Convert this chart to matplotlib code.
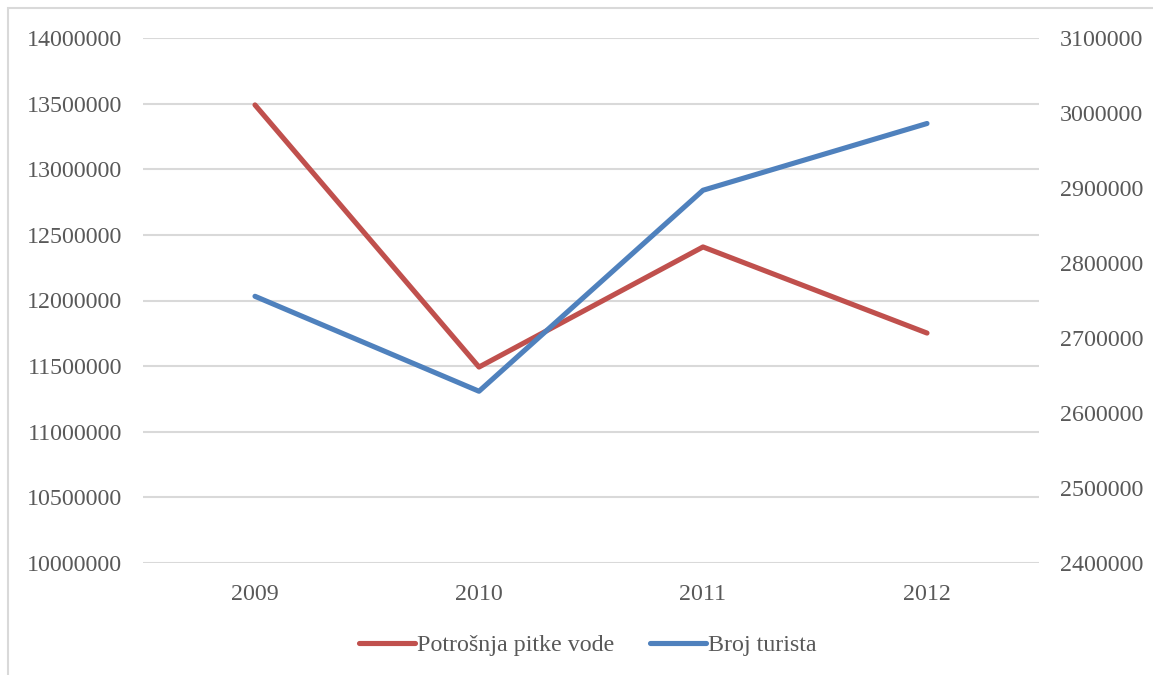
import matplotlib
matplotlib.use("Agg")
import matplotlib.pyplot as plt
from matplotlib.patches import Rectangle

plt.rcParams['font.family'] = ['Liberation Serif', 'DejaVu Serif']

years = ["2009", "2010", "2011", "2012"]
water_use = [13490000, 11493000, 12408000, 11752000]
tourists = [2755600, 2629000, 2897000, 2986000]
left_ticks = list(range(10000000, 14000001, 500000))
right_ticks = list(range(2400000, 3100001, 100000))

red = "#C0504D"
blue = "#4F81BD"
text_c = "#595959"
grid_c = "#D9D9D9"
fs = 17.3

fig = plt.figure(figsize=(11.53, 6.75), dpi=100)
ax = fig.add_axes([143/1153, 1-563/675, (1039-143)/1153, (563-38)/675])
ax2 = ax.twinx()

x = [i + 0.5 for i in range(len(years))]
l1, = ax.plot(x, water_use, color=red, lw=3.7, solid_capstyle='round', solid_joinstyle='round')
l2, = ax2.plot(x, tourists, color=blue, lw=3.7, solid_capstyle='round', solid_joinstyle='round')

ax.set_xlim(0, 4)
ax.set_ylim(10000000, 14000000)
ax2.set_ylim(2400000, 3100000)
ax.set_yticks(left_ticks)
ax.set_yticklabels([str(v) for v in left_ticks])
ax2.set_yticks(right_ticks)
ax2.set_yticklabels([str(v) for v in right_ticks])
ax.set_xticks(x)
ax.set_xticklabels(years)

ax.grid(axis='y', color=grid_c, lw=1.5)
ax.set_axisbelow(True)
for a in (ax, ax2):
    for s in a.spines.values():
        s.set_visible(False)
    a.tick_params(length=0, labelsize=fs, labelcolor=text_c)
ax.tick_params(axis='y', pad=15)
ax2.tick_params(axis='y', pad=15)
ax.tick_params(axis='x', pad=15)

fig.legend([l1, l2], ["Potrošnja pitke vode", "Broj turista"], loc='center',
           bbox_to_anchor=(588/1153, 1-645/675), ncol=2, frameon=False,
           fontsize=fs, labelcolor=text_c, handlelength=2.3, handletextpad=0.1,
           columnspacing=1.5)

fig.patches.append(Rectangle((8/1153, -0.05), 1.1, 1-8/675+0.05, transform=fig.transFigure,
                             fill=False, edgecolor=grid_c, lw=1.5))

fig.savefig("out.png", dpi=100)
